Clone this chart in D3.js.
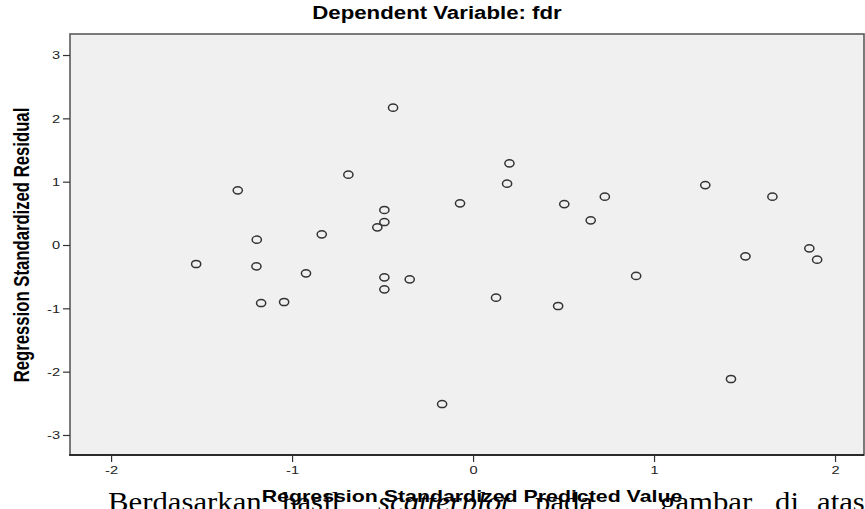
<!DOCTYPE html>
<html>
<head>
<meta charset="utf-8">
<script src="https://cdn.jsdelivr.net/npm/d3@7"></script>
<style>
  html, body { margin: 0; padding: 0; background: #fff; }
  svg { display: block; }
</style>
</head>
<body>
<div id="chart"></div>
<script>
// regression standardized predicted value vs standardized residual
const predicted = [
  -1.530, -1.300, -1.195, -1.197, -1.171, -1.044, -0.923, -0.836,
  -0.689, -0.529, -0.490, -0.490, -0.490, -0.490, -0.350, -0.442,
  -0.171, -0.072, 0.127, 0.188, 0.201, 0.470, 0.504, 0.650,
  0.728, 0.901, 1.283, 1.425, 1.505, 1.654, 1.858, 1.901
]
const residual = [
  -0.300, 0.864, 0.084, -0.336, -0.916, -0.900, -0.447, 0.169,
  1.110, 0.279, 0.553, 0.363, -0.510, -0.700, -0.542, 2.168,
  -2.511, 0.658, -0.832, 0.968, 1.290, -0.963, 0.647, 0.390,
  0.763, -0.489, 0.947, -2.116, -0.178, 0.763, -0.052, -0.232
]
const xTicks = [-2, -1, 0, 1, 2]
const yTicks = [-3, -2, -1, 0, 1, 2, 3]

const title = 'Dependent Variable: fdr'
const xTitle = 'Regression Standardized Predicted Value'
const yTitle = 'Regression Standardized Residual'
// caption of the document the chart was pasted into
const captionWords = ['Berdasarkan', 'hasil', 'scatterplot', 'pada', 'gambar', 'di', 'atas,']
const captionItalic = [false, false, true, false, false, false, false]

const width = 865
const height = 509
const plot = { left: 70, right: 864, top: 34, bottom: 455 }
const sx = 1.27 // the picture is stretched sideways
const sxSerif = 1.14
const sans = '"Liberation Sans", Arial, sans-serif'
const serif = '"Liberation Serif", "Times New Roman", serif'
const captionX = [108, 282, 378, 535, 660, 775, 817]

const data = predicted.map((x, i) => ({ x, y: residual[i] }))

const svg = d3.select('#chart')
  .append('svg')
  .attr('width', width)
  .attr('height', height)

const xScale = d3.scaleLinear()
  .domain([-2.227, 2.16])
  .range([plot.left, plot.right])
const yScale = d3.scaleLinear()
  .domain([-3.316, 3.332])
  .range([plot.bottom, plot.top])

// document text underneath
svg.append('g')
  .selectAll('text')
  .data(captionWords)
  .enter()
  .append('text')
  .attr('transform', (d, i) => `translate(${captionX[i]},511) scale(${sxSerif},1)`)
  .attr('font-family', serif)
  .attr('font-size', 27)
  .attr('font-style', (d, i) => captionItalic[i] ? 'italic' : 'normal')
  .attr('fill', '#000')
  .text(d => d)

// plot frame
svg.append('rect')
  .attr('x', plot.left)
  .attr('y', plot.top)
  .attr('width', plot.right - plot.left)
  .attr('height', plot.bottom - plot.top)
  .attr('fill', '#f0f0f0')
  .attr('stroke', '#5a5a5a')
  .attr('stroke-width', 1.6)
svg.append('line')
  .attr('x1', plot.left - 0.8)
  .attr('x2', plot.right)
  .attr('y1', plot.bottom)
  .attr('y2', plot.bottom)
  .attr('stroke', '#111')
  .attr('stroke-width', 1.4)

const xAxis = d3.axisBottom(xScale)
  .tickValues(xTicks)
  .tickFormat(d => String(d))
  .tickSize(7)
  .tickPadding(3.5)
const yAxis = d3.axisLeft(yScale)
  .tickValues(yTicks)
  .tickFormat(d => String(d))
  .tickSize(7)
  .tickPadding(3)

const gx = svg.append('g')
  .attr('transform', `translate(0, ${plot.bottom})`)
  .call(xAxis)
const gy = svg.append('g')
  .attr('transform', `translate(${plot.left}, 0)`)
  .call(yAxis)

;[gx, gy].forEach(g => {
  g.select('.domain').remove()
  g.selectAll('.tick line').attr('stroke', '#333').attr('stroke-width', 1.2)
  g.selectAll('.tick text')
    .attr('font-family', sans)
    .attr('font-size', 11.5)
    .attr('fill', '#222')
})
gx.selectAll('.tick text').attr('transform', `scale(${sx},1)`)
gy.selectAll('.tick text')
  .attr('x', -10 / sx)
  .attr('transform', `scale(${sx},1)`)

// points
svg.append('g')
  .selectAll('ellipse')
  .data(data)
  .enter()
  .append('ellipse')
  .attr('cx', d => xScale(d.x))
  .attr('cy', d => yScale(d.y))
  .attr('rx', 4.6)
  .attr('ry', 3.6)
  .attr('fill', 'none')
  .attr('stroke', '#333')
  .attr('stroke-width', 1.5)

// titles
svg.append('text')
  .attr('transform', `translate(437,19) scale(${sx},1)`)
  .attr('text-anchor', 'middle')
  .attr('font-family', sans)
  .attr('font-weight', 'bold')
  .attr('font-size', 17.5)
  .attr('fill', '#000')
  .text(title)

svg.append('text')
  .attr('transform', `translate(472,502) scale(${sx},1)`)
  .attr('text-anchor', 'middle')
  .attr('font-family', sans)
  .attr('font-weight', 'bold')
  .attr('font-size', 16.8)
  .attr('fill', '#000')
  .text(xTitle)

svg.append('text')
  .attr('transform', `translate(29,245) scale(${sx},1) rotate(-90)`)
  .attr('text-anchor', 'middle')
  .attr('font-family', sans)
  .attr('font-weight', 'bold')
  .attr('font-size', 16.7)
  .attr('fill', '#000')
  .text(yTitle)
</script>
</body>
</html>
